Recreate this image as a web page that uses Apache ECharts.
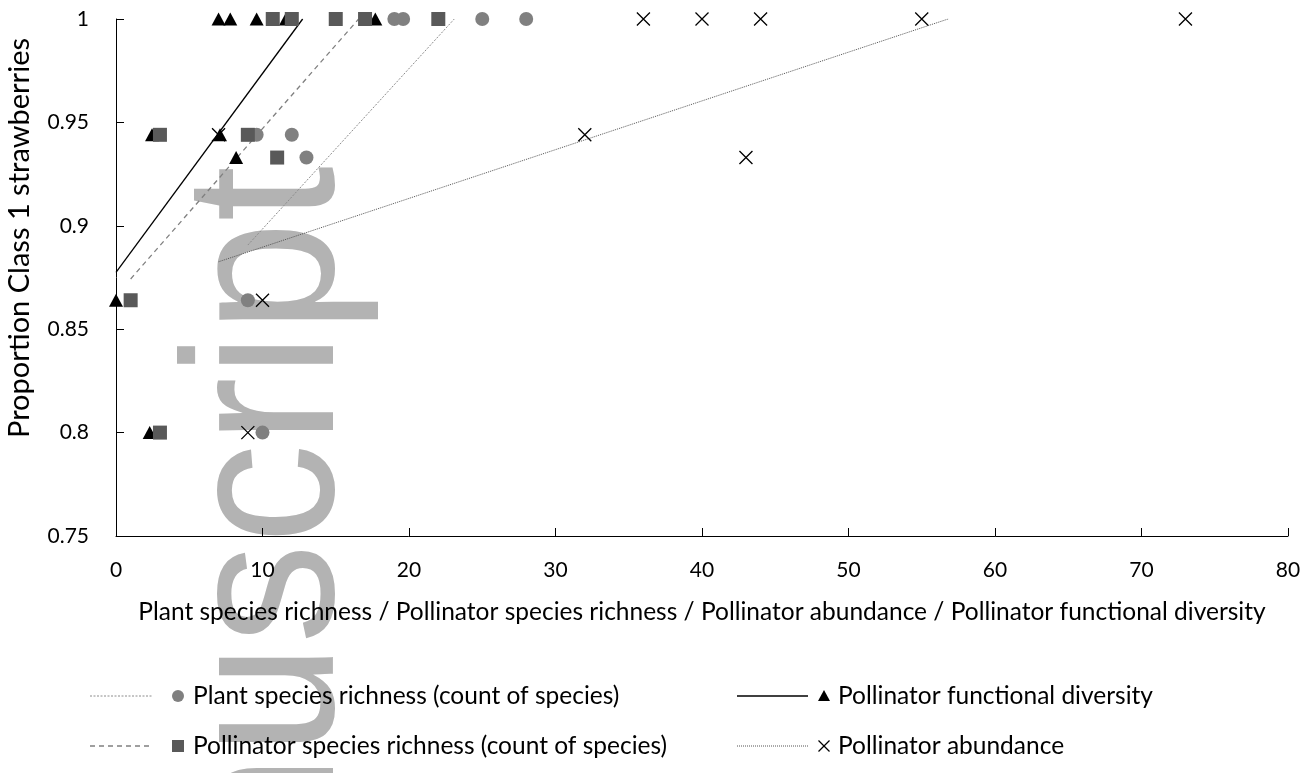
<!DOCTYPE html>
<html>
<head>
<meta charset="utf-8">
<title>Proportion Class 1 strawberries</title>
<script src="https://cdn.jsdelivr.net/npm/echarts@6/dist/echarts.min.js"></script>
<style>
  html, body { margin: 0; padding: 0; background: #fff; }
  #chart { width: 1315px; height: 773px; }
</style>
</head>
<body>
<div id="chart"></div>
<script>
// Plant species richness (circles)
const plantX = [19, 19.6, 25, 28, 9.6, 12, 13, 9, 10];
const plantY = [1, 1, 1, 1, 0.944, 0.944, 0.933, 0.864, 0.8];

// Pollinator species richness (squares)
const richnessX = [10.7, 12, 15, 17, 22, 3, 9, 11, 1, 3];
const richnessY = [1, 1, 1, 1, 1, 0.944, 0.944, 0.933, 0.864, 0.8];

// Pollinator functional diversity (triangles)
const functionalX = [7, 7.8, 9.6, 11.6, 17.7, 2.46, 7.1, 8.2, 0, 2.3];
const functionalY = [1, 1, 1, 1, 1, 0.944, 0.944, 0.933, 0.864, 0.8];

// Pollinator abundance (crosses)
const abundanceX = [36, 40, 44, 55, 73, 7, 32, 43, 10, 9];
const abundanceY = [1, 1, 1, 1, 1, 0.944, 0.944, 0.933, 0.864, 0.8];

// Linear trendlines, [x, y] end points (cut at the top of the y range)
const plantTrend = [[9, 0.8907], [23.09, 1]];
const richnessTrend = [[1, 0.8743], [16.56, 1]];
const functionalTrend = [[0, 0.8775], [12.74, 1]];
const abundanceTrend = [[7, 0.8826], [56.8, 1]];

const legendNames = [
  'Plant species richness (count of species)',
  'Pollinator functional diversity',
  'Pollinator species richness (count of species)',
  'Pollinator abundance'
];
const xTitle = 'Plant species richness / Pollinator species richness / Pollinator abundance / Pollinator functional diversity';
const yTitle = 'Proportion Class 1 strawberries';

const FONT = 'Lato';
const CROSS = 'path://M0,0L10,10M10,0L0,10';

const pairs = (xs, ys) => xs.map((x, i) => [x, ys[i]]);

const chart = echarts.init(document.getElementById('chart'), null, { renderer: 'canvas' });

// Legend keys: trendline sample, marker, label
function legendGraphics() {
  const g = [];
  const rows = [696, 746];
  const cols = [{ l0: 90, l1: 152, s: 178, t: 193 }, { l0: 737, l1: 808, s: 824, t: 838 }];
  const lineStyles = [
    { stroke: '#8c8c8c', lineWidth: 1, lineDash: [2, 1.5] },
    { stroke: '#000', lineWidth: 1.3 },
    { stroke: '#808080', lineWidth: 1.3, lineDash: [5, 4] },
    { stroke: '#555', lineWidth: 1, lineDash: [1, 1] }
  ];
  for (let i = 0; i < 4; i++) {
    const c = cols[i % 2];
    const y = rows[Math.floor(i / 2)];
    g.push({ type: 'line', shape: { x1: c.l0, y1: y, x2: c.l1, y2: y }, style: lineStyles[i], z: 5 });
    let sym;
    if (i === 0) sym = { type: 'circle', shape: { cx: c.s, cy: y, r: 6 }, style: { fill: '#808080' } };
    else if (i === 1) sym = { type: 'polygon', shape: { points: [[c.s - 6, y + 5], [c.s + 6, y + 5], [c.s, y - 6]] }, style: { fill: '#000' } };
    else if (i === 2) sym = { type: 'rect', shape: { x: c.s - 6, y: y - 6, width: 12, height: 12 }, style: { fill: '#595959' } };
    else sym = { type: 'group', children: [
      { type: 'line', shape: { x1: c.s - 5.5, y1: y - 5.5, x2: c.s + 5.5, y2: y + 5.5 }, style: { stroke: '#000', lineWidth: 1.2 } },
      { type: 'line', shape: { x1: c.s - 5.5, y1: y + 5.5, x2: c.s + 5.5, y2: y - 5.5 }, style: { stroke: '#000', lineWidth: 1.2 } }
    ] };
    sym.z = 5;
    g.push(sym);
    g.push({ type: 'text', x: c.t, y: y, z: 5,
      style: { text: legendNames[i], font: '24.5px ' + FONT, fill: '#000', verticalAlign: 'middle', align: 'left' } });
  }
  return g;
}

const option = {
  backgroundColor: '#fff',
  animation: false,
  grid: { left: 116, right: 27, top: 19, bottom: 237, containLabel: false },
  xAxis: {
    type: 'value', min: 0, max: 80, interval: 10,
    name: xTitle, nameLocation: 'middle', nameGap: 64,
    nameTextStyle: { fontFamily: FONT, fontSize: 24.5, color: '#000' },
    axisLine: { show: true, lineStyle: { color: '#000', width: 1 } },
    axisTick: { show: true, inside: true, length: 8, lineStyle: { color: '#000' } },
    axisLabel: { fontFamily: FONT, fontSize: 21, color: '#000', margin: 24 },
    splitLine: { show: false }
  },
  yAxis: {
    type: 'value', min: 0.75, max: 1, interval: 0.05,
    axisLine: { show: true, lineStyle: { color: '#000', width: 1 } },
    axisTick: { show: true, inside: true, length: 8, lineStyle: { color: '#000' } },
    axisLabel: { fontFamily: FONT, fontSize: 21, color: '#000', margin: 27 },
    splitLine: { show: false }
  },
  graphic: [
    // watermark, behind everything
    { type: 'text', x: 273, y: 166, rotation: Math.PI / 2, scaleY: 1.08, z: -10, silent: true,
      style: { text: 'manuscript', font: '200px "Liberation Sans"', fill: '#b3b3b3',
        align: 'right', verticalAlign: 'middle' } },
    { type: 'text', x: 20, y: 238, rotation: Math.PI / 2, z: 5,
      style: { text: yTitle, font: '29px ' + FONT, fill: '#000', align: 'center', verticalAlign: 'middle' } },
    ...legendGraphics()
  ],
  series: [
    { name: 'plantTrend', type: 'line', data: plantTrend, symbol: 'none', silent: true, z: 1,
      lineStyle: { color: '#8c8c8c', width: 1, type: [2, 1.5] } },
    { name: 'richnessTrend', type: 'line', data: richnessTrend, symbol: 'none', silent: true, z: 1,
      lineStyle: { color: '#808080', width: 1.3, type: [5, 4] } },
    { name: 'functionalTrend', type: 'line', data: functionalTrend, symbol: 'none', silent: true, z: 1,
      lineStyle: { color: '#000', width: 1.3 } },
    { name: 'abundanceTrend', type: 'line', data: abundanceTrend, symbol: 'none', silent: true, z: 1,
      lineStyle: { color: '#555', width: 1, type: [1, 1] } },
    { name: legendNames[0], type: 'scatter', data: pairs(plantX, plantY), z: 2,
      symbol: 'circle', symbolSize: 14, itemStyle: { color: '#808080', opacity: 1 } },
    { name: legendNames[1], type: 'scatter', data: pairs(functionalX, functionalY), z: 3,
      symbol: 'triangle', symbolSize: [14, 13], itemStyle: { color: '#000', opacity: 1 } },
    { name: legendNames[2], type: 'scatter', data: pairs(richnessX, richnessY), z: 4,
      symbol: 'rect', symbolSize: 14, itemStyle: { color: '#595959', opacity: 1 } },
    { name: legendNames[3], type: 'scatter', data: pairs(abundanceX, abundanceY), z: 5,
      symbol: CROSS, symbolSize: 13, itemStyle: { color: '#000', borderColor: '#000', borderWidth: 1.3, opacity: 1 } }
  ]
};

chart.setOption(option);
</script>
</body>
</html>
